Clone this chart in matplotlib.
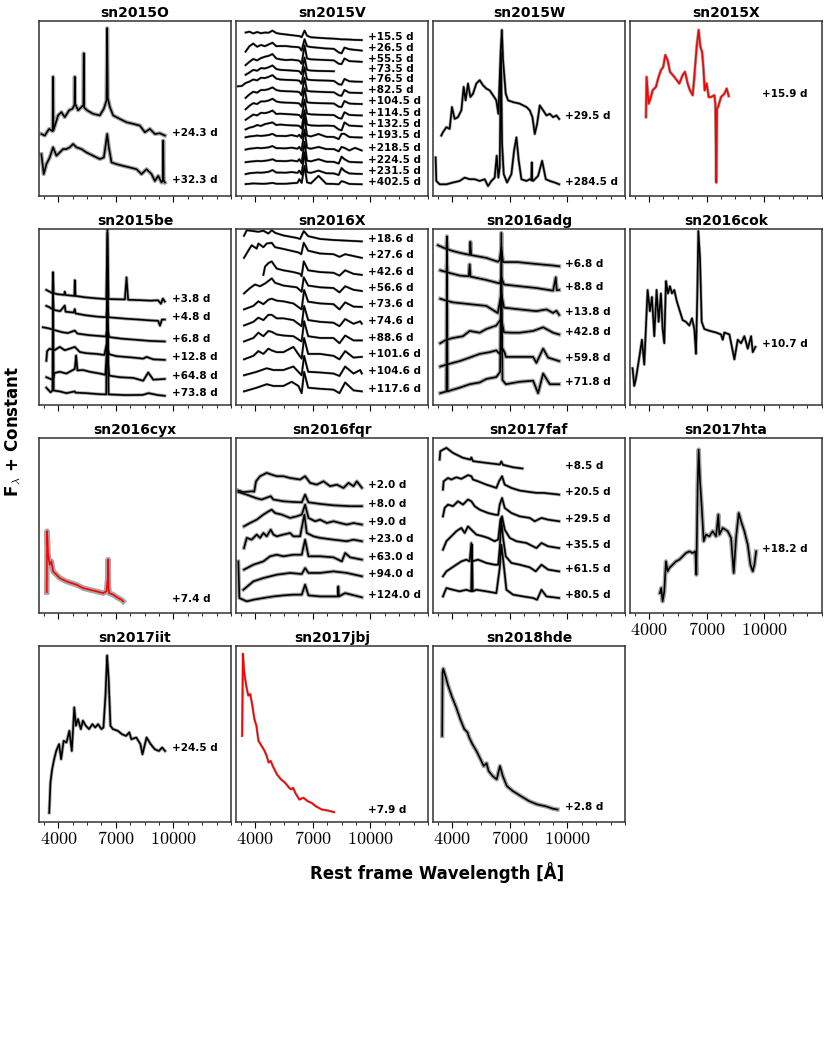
import numpy as np
import matplotlib
matplotlib.use('Agg')
import matplotlib.pyplot as plt
from matplotlib.ticker import FixedLocator, AutoMinorLocator, FuncFormatter

plt.rcParams['mathtext.fontset'] = 'cm'

nan = np.nan

# ---- sn2015O
sn2015O_phase = ['+24.3 d', '+32.3 d']
sn2015O_wave = [
    [3122, 3296, 3522, 3710, 3730, 3750, 3991, 4165, 4339, 4565, 4739, 4845, 4861, 4878, 5035, 5209, 5310, 5330,
     5350, 5504, 5817, 6165, 6374, 6513, 6548, 6580, 6687, 6861, 7209, 7556, 7904, 8252, 8513, 8774, 9034, 9295, 9556],
    [3122, 3243, 3383, 3556, 3730, 3904, 4078, 4252, 4426, 4600, 4774, 4948, 5209, 5469, 5817, 6165, 6374, 6478,
     6548, 6635, 6774, 7035, 7382, 7730, 8078, 8339, 8600, 8861, 9034, 9208, 9382, 9450, 9469, 9490, 9556],
]
sn2015O_flux = [
    [35.4, 34.5, 38.3, 37.0, 68.0, 37.5, 46.0, 47.9, 45.0, 48.9, 49.8, 52.0, 68.0, 52.7, 48.9, 50.8, 52.0, 81.4,
     50.5, 48.9, 46.9, 46.0, 49.8, 54.6, 95.8, 56.0, 50.8, 46.0, 44.0, 42.1, 41.2, 40.2, 36.4, 38.3, 35.4, 35.8, 34.5],
    [23.9, 12.5, 18.2, 22.0, 27.8, 23.0, 24.9, 26.8, 26.8, 27.8, 29.7, 27.8, 26.8, 24.9, 23.0, 21.1, 22.0, 29.7,
     35.4, 27.8, 19.2, 18.2, 17.2, 16.3, 15.3, 12.5, 15.3, 12.5, 8.6, 11.5, 7.7, 9.0, 31.6, 9.0, 7.7],
]

# ---- sn2015V (common wavelength grid)
sn2015V_grid = [3100, 3300, 3500, 3700, 3900, 4100, 4300, 4500, 4700, 4900, 5100, 5300, 5600, 5900, 6200, 6300,
                6420, 6570, 6700, 6900, 7300, 7700, 8100, 8350, 8500, 8650, 8900, 9200, 9550]
sn2015V_phase = ['+15.5 d', '+26.5 d', '+55.5 d', '+73.5 d', '+76.5 d', '+82.5 d', '+104.5 d', '+114.5 d',
                 '+132.5 d', '+193.5 d', '+218.5 d', '+224.5 d', '+231.5 d', '+402.5 d']
sn2015V_flux = [
    [nan, nan, 93.3, 93.8, 92.8, 93.6, 92.9, 93.3, 93.2, 94.4, 93.0, 92.6, 92.2, 91.8, 91.4, 91.3, 90.6, 94.4, 91.5,
     90.6, 90.3, 90.0, 89.8, 89.6, 89.4, 89.4, 89.3, 89.1, 89.0],
    [nan, nan, 82.4, 85.5, 87.0, 85.2, 86.2, 85.5, 86.5, 87.5, 85.5, 85.6, 85.6, 85.2, 85.0, 84.8, 83.0, 89.5, 85.5,
     85.0, 84.6, 84.2, 84.0, 82.0, 81.4, 84.7, 83.8, 83.4, 83.0],
    [nan, nan, 74.7, 76.6, 78.2, 77.4, 78.7, 79.5, 80.0, 81.0, 78.5, 78.0, 77.6, 77.8, 77.4, 77.2, 75.5, 86.0, 78.5,
     78.0, 77.8, 77.6, 77.4, 75.5, 75.3, 78.5, 77.0, 76.8, 76.6],
    [nan, nan, 69.2, 70.5, 72.0, 71.5, 73.0, 72.8, 73.5, 74.5, 72.5, 72.0, 71.8, 71.6, 71.4, 71.2, 69.5, 79.0, 72.0,
     71.6, 71.4, 71.3, 71.2, nan, nan, nan, nan, nan, nan],
    [62.6, 62.8, 64.5, 65.3, 66.5, 66.0, 67.5, 67.3, 68.0, 69.0, 67.0, 66.5, 66.3, 66.2, 66.0, 65.8, 64.0, 73.5, 66.5,
     66.2, 66.0, 65.9, 65.7, 63.8, 63.5, 66.8, 65.5, 65.3, 65.2],
    [nan, nan, 56.0, 58.0, 59.5, 59.0, 60.5, 60.5, 61.0, 62.0, 60.5, 60.0, 59.8, 59.7, 59.5, 59.3, 57.5, 67.5, 60.0,
     59.7, 59.5, 59.3, 59.2, 57.5, 57.2, 60.5, 59.0, 58.9, 58.8],
    [nan, nan, 49.5, 51.5, 53.0, 52.5, 54.0, 54.0, 54.5, 55.5, 54.0, 53.5, 53.3, 53.2, 53.0, 52.8, 51.0, 61.5, 53.5,
     53.2, 53.0, 52.9, 52.8, 51.0, 50.8, 54.2, 52.8, 52.6, 52.5],
    [nan, nan, 43.5, 45.0, 46.5, 46.0, 47.5, 47.3, 47.8, 48.8, 46.8, 47.0, 46.8, 46.6, 46.4, 46.2, 44.5, 55.0, 47.0,
     46.6, 46.4, 46.3, 46.2, 44.5, 44.2, 47.8, 46.3, 46.1, 46.0],
    [nan, nan, 38.0, 39.0, 39.5, 40.5, 40.0, 41.0, 41.5, 42.0, 40.5, 40.8, 40.5, 40.3, 40.2, 40.0, 38.5, 49.0, 40.8,
     40.3, 40.1, 40.2, 40.0, 38.0, 37.5, 42.0, 40.2, 40.0, 39.8],
    [nan, nan, 33.5, 34.0, 34.2, 34.5, 34.3, 34.5, 34.8, 35.5, 34.3, 34.3, 34.2, 34.8, 34.0, 35.0, 33.0, 45.0, 34.5,
     34.0, 35.4, 33.8, 33.7, 32.5, 35.5, 35.5, 33.7, 33.5, 33.4],
    [nan, nan, 26.5, 27.0, 27.2, 27.5, 27.3, 27.5, 27.8, 28.5, 27.3, 27.3, 27.2, 27.6, 27.0, 28.0, 26.0, 38.0, 27.5,
     27.0, 28.0, 26.8, 26.8, 25.5, 28.0, 27.5, 26.0, 27.5, 26.0],
    [nan, nan, 19.3, 19.6, 19.8, 20.0, 19.9, 20.1, 20.4, 21.0, 20.0, 20.0, 19.9, 20.3, 19.8, 21.0, 18.8, 31.0, 20.2,
     19.8, 21.0, 19.6, 19.5, 18.5, 22.5, 21.0, 19.5, 19.3, 19.2],
    [nan, nan, 12.5, 13.0, 13.2, 13.4, 13.3, 13.5, 13.8, 14.8, 13.4, 13.4, 13.3, 13.7, 13.2, 14.5, 12.3, 25.0, 13.6,
     13.2, 14.5, 13.0, 12.9, 12.0, 16.0, 14.3, 12.9, 12.7, 12.6],
    [nan, nan, 6.8, 7.0, 7.2, 7.1, 7.0, 7.0, 7.2, 7.5, 7.0, 7.0, 7.0, 7.3, 7.5, 9.6, 7.5, 17.2, 7.8,
     7.2, 11.5, 7.0, 6.9, 6.7, 8.5, 8.0, 6.9, 6.8, 6.7],
]
sn2015V_wave = [sn2015V_grid] * len(sn2015V_flux)

# ---- sn2015W
sn2015W_phase = ['+29.5 d', '+284.5 d']
sn2015W_wave = [
    [3435, 3520, 3700, 3870, 3990, 4130, 4300, 4480, 4600, 4700, 4826, 4948, 5087, 5260, 5435, 5608, 5782, 5956,
     6130, 6300, 6408, 6530, 6590, 6652, 6791, 6913, 7174, 7521, 7869, 8043, 8182, 8304, 8426, 8565, 8739, 8913,
     9087, 9260, 9434, 9573],
    [3140, 3174, 3350, 3700, 4043, 4390, 4652, 4913, 5174, 5435, 5695, 5870, 6043, 6217, 6321, 6408, 6478, 6545,
     6600, 6687, 6860, 7087, 7226, 7348, 7470, 7608, 7870, 8043, 8120, 8147, 8175, 8217, 8478, 8687, 8878, 9087,
     9347, 9573],
]
sn2015W_flux = [
    [34.5, 36.4, 39.3, 38.3, 50.8, 44.0, 45.0, 48.9, 62.3, 54.6, 64.2, 56.5, 58.4, 64.2, 66.1, 63.2, 61.3, 60.3,
     57.5, 54.6, 46.9, 83.3, 94.8, 77.6, 58.4, 54.6, 53.6, 52.7, 50.8, 48.9, 45.0, 35.4, 41.2, 51.7, 48.9, 46.0,
     46.9, 45.0, 46.0, 44.0],
    [22.0, 8.6, 6.7, 6.7, 7.7, 8.6, 10.5, 9.6, 9.6, 8.6, 9.6, 5.7, 8.6, 10.5, 23.0, 10.5, 16.3, 82.0,
     30.0, 12.5, 7.7, 12.5, 25.9, 33.5, 20.1, 9.6, 8.6, 9.6, 9.0, 19.2, 9.0, 8.6, 11.5, 20.1, 9.6, 8.6,
     7.7, 6.7],
]

# ---- sn2015X
sn2015X_phase = ['+15.9 d']
sn2015X_wave = [[3835, 3870, 3974, 4096, 4183, 4356, 4496, 4617, 4739, 4843, 4965, 5087, 5313, 5574, 5748, 5869,
                 6008, 6130, 6270, 6356, 6478, 6582, 6669, 6756, 6826, 6895, 7000, 7104, 7226, 7400, 7452, 7500,
                 7540, 7591, 7748, 7921, 8043, 8147]]
sn2015X_flux = [[45.0, 68.0, 52.7, 56.5, 60.3, 62.3, 68.0, 71.8, 73.8, 80.5, 77.6, 70.9, 68.0, 64.2, 69.0, 70.9,
                 64.2, 60.3, 57.5, 68.0, 85.2, 94.8, 85.2, 82.4, 73.8, 60.3, 64.2, 56.5, 56.5, 57.5, 52.7, 7.7,
                 50.0, 50.8, 56.5, 58.4, 61.3, 57.0]]

# ---- sn2015be
sn2015be_phase = ['+3.8 d', '+4.8 d', '+6.8 d', '+12.8 d', '+64.8 d', '+73.8 d']
sn2015be_wave = [
    [3380, 3550, 3700, 3730, 3760, 3950, 4300, 4339, 4380, 4840, 4861, 4900, 5400, 6000, 6500, 6563, 6620, 7470,
     7556, 7640, 8200, 8800, 9200, 9350, 9450, 9550],
    [3380, 3550, 3700, 3730, 3760, 4100, 4339, 4380, 4800, 4861, 4900, 5400, 6000, 6500, 6563, 6620, 7500, 8200,
     8800, 9200, 9300, 9400, 9550],
    [3200, 3500, 3800, 4200, 4500, 4861, 5000, 5600, 6300, 6480, 6563, 6650, 7300, 8000, 8800, 9550],
    [3380, 3420, 3550, 3800, 4078, 4339, 4600, 4861, 5122, 5469, 5990, 6400, 6530, 6650, 7035, 7904, 8426, 8600,
     8950, 9550],
    [3380, 3730, 3800, 4078, 4426, 4861, 4930, 5000, 5295, 5643, 6165, 6450, 6548, 6650, 7209, 7904, 8426, 8687,
     8950, 9550],
    [3380, 3600, 3700, 3730, 3760, 4078, 4426, 4861, 4900, 5469, 6165, 6500, 6563, 6620, 7500, 8400, 8700, 9200,
     9550],
]
sn2015be_flux = [
    [65.4, 64.4, 63.5, 75.6, 63.5, 63.0, 62.6, 64.4, 62.5, 62.0, 71.0, 62.0, 61.2, 60.6, 60.2, 100.0, 60.2, 60.0,
     72.6, 59.8, 59.6, 59.3, 59.5, 57.5, 60.5, 58.8],
    [56.3, 55.5, 54.3, 62.0, 54.0, 53.3, 56.5, 53.0, 52.5, 54.5, 52.0, 51.0, 50.2, 49.8, 60.0, 49.8, 49.0, 48.5,
     48.0, 47.8, 45.0, 48.5, 48.5],
    [44.1, 43.5, 42.5, 41.3, 40.8, 42.2, 40.5, 39.6, 39.0, 38.8, 44.5, 38.5, 37.6, 37.0, 36.3, 36.0],
    [25.0, 30.5, 31.9, 31.0, 32.9, 31.0, 31.9, 32.9, 30.0, 29.3, 28.9, 28.3, 35.0, 28.7, 27.6, 26.8, 26.2, 27.2,
     25.8, 25.5],
    [15.6, 14.0, 18.0, 18.7, 17.7, 20.3, 28.0, 19.5, 19.7, 18.7, 17.7, 17.0, 30.9, 16.5, 15.6, 15.2, 13.6, 18.3,
     14.2, 14.6],
    [9.6, 7.0, 8.0, 75.0, 8.0, 7.5, 6.5, 7.5, 6.8, 6.5, 5.9, 5.8, 98.0, 5.8, 5.4, 5.5, 6.5, 5.4, 5.0],
]

# ---- sn2016X
sn2016X_phase = ['+18.6 d', '+27.6 d', '+42.6 d', '+56.6 d', '+73.6 d', '+74.6 d', '+88.6 d', '+101.6 d',
                 '+104.6 d', '+117.6 d']
sn2016X_wave = [
    [3417, 3560, 3900, 4165, 4426, 4687, 4861, 5035, 5469, 6165, 6340, 6530, 6760, 7382, 8078, 9556],
    [3417, 3640, 3817, 4078, 4165, 4426, 4600, 4861, 5035, 5469, 6252, 6400, 6530, 6760, 7382, 8078, 8390, 8687, 9556],
    [4426, 4513, 4687, 4861, 4983, 5122, 5469, 5990, 6340, 6420, 6530, 6760, 7382, 8078, 8390, 8687, 9121, 9556],
    [3417, 3730, 3991, 4252, 4513, 4687, 4861, 5035, 5469, 6165, 6420, 6530, 6760, 7382, 8078, 8390, 8687, 9121, 9556],
    [3417, 3904, 4165, 4426, 4687, 4861, 5122, 5469, 5990, 6420, 6548, 6760, 7382, 8078, 8390, 8687, 9121, 9556],
    [3417, 3904, 4165, 4426, 4687, 4861, 5122, 5469, 5990, 6420, 6548, 6760, 7382, 8078, 8390, 8687, 9121, 9470, 9556],
    [3417, 3904, 4165, 4426, 4687, 4861, 5122, 5469, 5990, 6420, 6548, 6760, 7382, 8078, 8390, 8687, 9121, 9556],
    [3417, 3904, 4165, 4426, 4687, 4861, 5122, 5469, 5990, 6200, 6420, 6548, 6760, 7382, 8078, 8390, 8687, 9121, 9556],
    [3417, 4078, 4600, 4948, 5469, 5990, 6420, 6548, 6760, 7382, 8078, 8390, 8687, 9121, 9470, 9556],
    [3417, 4078, 4600, 4948, 5469, 5900, 6252, 6420, 6548, 6760, 7382, 8078, 8390, 8687, 9121, 9556],
]
sn2016X_flux = [
    [96.3, 99.5, 99.0, 98.6, 99.2, 97.6, 99.5, 98.0, 96.5, 95.1, 94.5, 99.0, 96.1, 94.5, 93.9, 93.1],
    [83.7, 87.8, 90.9, 89.0, 91.9, 89.8, 91.9, 92.3, 89.8, 88.8, 86.8, 85.8, 92.3, 87.8, 86.2, 85.8, 84.3, 85.8, 83.7],
    [74.0, 78.7, 80.7, 81.7, 79.7, 77.6, 76.6, 75.6, 74.6, 73.2, 81.7, 76.6, 75.6, 75.2, 73.6, 76.6, 74.6, 74.0],
    [63.4, 66.5, 68.5, 67.5, 69.1, 70.5, 72.0, 69.5, 67.9, 66.9, 64.4, 72.6, 67.9, 66.9, 66.5, 64.0, 67.5, 65.5, 64.8],
    [54.3, 56.3, 58.9, 57.3, 59.8, 60.4, 59.3, 58.9, 57.7, 54.3, 65.4, 58.7, 57.7, 57.3, 54.3, 58.3, 55.9, 55.7],
    [45.1, 47.2, 49.6, 48.2, 51.2, 51.2, 49.2, 49.2, 48.2, 44.7, 56.3, 48.2, 47.2, 46.7, 44.7, 48.8, 46.1, 47.5, 46.1],
    [36.0, 38.0, 41.0, 39.0, 42.0, 41.5, 40.0, 39.4, 39.0, 36.0, 47.6, 39.0, 38.0, 38.0, 35.0, 39.4, 36.6, 36.6],
    [25.8, 27.8, 30.5, 28.9, 31.9, 30.9, 29.9, 29.9, 32.9, 29.5, 26.2, 38.0, 28.9, 28.9, 27.8, 25.8, 30.5, 26.8, 27.2],
    [16.7, 18.7, 20.7, 19.7, 19.7, 21.7, 16.7, 27.8, 18.7, 18.3, 17.7, 16.3, 21.7, 17.7, 19.7, 17.7],
    [7.5, 9.6, 11.6, 10.6, 10.6, 13.0, 10.6, 6.5, 18.7, 9.6, 9.0, 8.5, 6.5, 12.6, 8.1, 7.5],
]

# ---- sn2016adg
sn2016adg_phase = ['+6.8 d', '+8.8 d', '+13.8 d', '+42.8 d', '+59.8 d', '+71.8 d']
sn2016adg_wave = [
    [3261, 3700, 3730, 3760, 4043, 4400, 4913, 4950, 4990, 5780, 6380, 6480, 6560, 6650, 7400, 8300, 9300, 9573],
    [3380, 3700, 3730, 3760, 4400, 4861, 4913, 4960, 5780, 6480, 6563, 6700, 7520, 8390, 9260, 9400, 9450, 9573],
    [3380, 3700, 4043, 4913, 5780, 6380, 6560, 6700, 7520, 8390, 8910, 9260, 9430, 9573],
    [3380, 3700, 4043, 4560, 4913, 5435, 5780, 6300, 6560, 6700, 7087, 7520, 8217, 8740, 9260, 9573],
    [3380, 3700, 4043, 4390, 4913, 5435, 5956, 6300, 6478, 6580, 6720, 6800, 7520, 8217, 8390, 8740, 9000, 9573],
    [3380, 3700, 3730, 3760, 4043, 4390, 4913, 5435, 5780, 6300, 6500, 6563, 6620, 6800, 7520, 8217, 8478, 8740,
     9087, 9573],
]
sn2016adg_flux = [
    [90.9, 88.8, 96.0, 88.6, 87.6, 86.6, 85.4, 92.9, 85.3, 83.7, 81.5, 82.5, 89.8, 81.3, 81.3, 80.3, 79.3, 78.9],
    [76.6, 75.6, 82.0, 75.4, 73.6, 73.2, 80.0, 73.0, 71.1, 69.1, 72.6, 68.5, 67.5, 66.5, 65.0, 72.6, 65.2, 65.4],
    [60.4, 59.3, 58.3, 57.3, 56.3, 52.2, 63.4, 55.3, 54.3, 53.3, 54.3, 52.3, 53.5, 51.2],
    [35.0, 37.0, 38.0, 39.0, 42.0, 41.0, 43.1, 45.1, 49.0, 41.2, 41.0, 41.0, 42.0, 44.1, 41.0, 40.0],
    [21.7, 22.8, 23.8, 24.8, 26.8, 28.9, 29.9, 30.9, 28.9, 32.9, 30.0, 27.2, 27.2, 27.2, 23.8, 31.9, 26.8, 24.8],
    [6.5, 7.5, 93.0, 7.5, 8.5, 9.6, 11.6, 12.6, 14.6, 15.7, 18.7, 98.0, 14.0, 11.6, 13.0, 13.6, 6.5, 17.7,
     11.6, 11.6],
]

# ---- sn2016cok
sn2016cok_phase = ['+10.7 d']
sn2016cok_wave = [[3139, 3226, 3313, 3487, 3626, 3748, 3922, 4043, 4148, 4270, 4391, 4496, 4617, 4704, 4791, 4878,
                   4983, 5087, 5191, 5313, 5435, 5574, 5748, 5922, 6096, 6235, 6356, 6443, 6513, 6565, 6652, 6739,
                   6878, 7139, 7487, 7748, 7835, 7922, 8183, 8443, 8617, 8791, 8965, 9139, 9313, 9400, 9539]]
sn2016cok_flux = [[20.7, 10.6, 14.6, 26.8, 37.0, 22.8, 65.4, 53.3, 61.4, 39.0, 65.4, 47.2, 63.4, 43.1, 35.0, 70.5,
                   63.4, 67.5, 63.4, 65.4, 59.3, 54.3, 48.2, 47.2, 45.1, 49.2, 43.1, 28.9, 63.4, 99.0, 83.7, 47.2,
                   43.1, 42.1, 41.1, 40.0, 37.0, 41.1, 40.0, 25.8, 37.0, 35.0, 39.0, 31.9, 39.0, 29.9, 32.9]]

# ---- sn2016cyx
sn2016cyx_phase = ['+7.4 d']
sn2016cyx_wave = [[3400, 3420, 3470, 3556, 3643, 3730, 3904, 4078, 4252, 4426, 4687, 4948, 5295, 5643, 5991, 6339,
                   6513, 6580, 6600, 6620, 6652, 6861, 7122, 7295, 7382]]
sn2016cyx_flux = [[12.0, 46.7, 33.3, 27.6, 29.5, 23.8, 21.9, 20.0, 19.0, 18.1, 17.1, 16.2, 14.3, 13.3, 12.4, 11.4,
                   12.4, 20.0, 30.5, 15.0, 11.4, 10.5, 8.6, 7.6, 6.7]]

# ---- sn2016fqr
sn2016fqr_phase = ['+2.0 d', '+8.0 d', '+9.0 d', '+23.0 d', '+63.0 d', '+94.0 d', '+124.0 d']
sn2016fqr_wave = [
    [3122, 3383, 3817, 3950, 4043, 4252, 4600, 4861, 5122, 5469, 5817, 6339, 6600, 6861, 7208, 7556, 7904, 8252,
     8600, 8861, 9121, 9295, 9556],
    [3122, 3557, 4078, 4339, 4808, 4948, 5469, 5990, 6426, 6600, 6774, 7382, 8078, 8947, 9556],
    [3417, 3730, 4078, 4426, 4687, 4861, 5035, 5382, 5817, 6165, 6426, 6600, 6774, 7122, 7382, 7730, 8078, 8426,
     8774, 9121, 9556],
    [3417, 3557, 3817, 4078, 4252, 4426, 4600, 4808, 4948, 5122, 5469, 5817, 5990, 6339, 6560, 6687, 7035, 7382,
     8078, 8774, 9121, 9556],
    [3417, 3904, 4426, 4774, 5122, 5469, 5990, 6426, 6600, 6774, 7382, 8078, 8513, 8687, 8947, 9556],
    [3383, 3904, 4426, 5122, 5817, 6426, 6600, 6774, 7382, 8078, 8774, 9556],
    [3122, 3174, 3557, 3904, 4426, 4948, 5469, 5990, 6426, 6600, 6774, 7382, 8078, 8300, 8330, 8360, 8687, 9556],
]
sn2016fqr_flux = [
    [70.0, 69.0, 69.5, 69.3, 75.2, 78.1, 80.0, 79.0, 78.1, 78.1, 77.1, 76.2, 78.1, 74.3, 73.3, 75.2, 72.4, 73.3,
     71.4, 74.3, 72.4, 75.2, 71.5],
    [69.1, 67.6, 65.5, 64.8, 66.7, 64.8, 63.8, 63.4, 63.2, 67.6, 63.2, 62.3, 61.5, 61.0, 61.0],
    [49.5, 51.4, 53.3, 56.2, 58.0, 59.0, 57.1, 56.2, 54.3, 55.2, 56.2, 61.9, 54.3, 52.4, 53.3, 51.4, 52.4, 51.4,
     50.5, 51.4, 50.5],
    [37.1, 42.9, 41.9, 44.8, 42.9, 45.7, 43.8, 47.6, 44.8, 43.8, 44.8, 45.7, 43.8, 43.8, 56.2, 45.7, 43.8, 42.9,
     41.9, 41.0, 41.9, 41.0],
    [24.8, 27.6, 29.5, 32.4, 33.3, 32.4, 33.3, 33.3, 41.9, 32.4, 32.4, 31.8, 29.5, 34.3, 31.8, 30.5],
    [13.3, 18.1, 20.0, 21.9, 22.9, 22.3, 25.7, 22.9, 22.9, 23.8, 22.9, 21.0],
    [29.5, 8.6, 6.7, 7.6, 8.6, 9.5, 10.1, 10.5, 10.5, 16.2, 10.1, 9.5, 9.5, 9.5, 15.2, 9.5, 11.4, 9.0],
]

# ---- sn2017faf
sn2017faf_phase = ['+8.5 d', '+20.5 d', '+29.5 d', '+35.5 d', '+61.5 d', '+80.5 d']
sn2017faf_wave = [
    [3348, 3383, 3700, 4043, 4565, 4950, 5000, 5087, 5782, 6478, 6563, 6650, 7174, 7660],
    [3522, 3557, 3783, 3957, 4217, 4478, 4826, 5000, 5087, 5348, 5782, 6043, 6304, 6443, 6600, 6739, 7087, 7521,
     8043, 8391, 8739, 9260, 9573],
    [3522, 3609, 3783, 4043, 4304, 4565, 4826, 5000, 5174, 5435, 5870, 6217, 6400, 6478, 6600, 6739, 7087, 7521,
     8043, 8304, 8652, 9000, 9573],
    [3522, 3700, 3957, 4217, 4478, 4652, 4826, 5000, 5261, 5609, 5870, 6217, 6400, 6513, 6600, 6739, 7000, 7347,
     7869, 8391, 8652, 9000, 9573],
    [3522, 3700, 3957, 4217, 4478, 4739, 4913, 5000, 5040, 5348, 5782, 6217, 6400, 6478, 6565, 6652, 6791, 7087,
     7521, 8043, 8357, 8652, 9000, 9573],
    [3522, 3700, 4043, 4391, 4739, 4990, 5035, 5070, 5261, 5782, 6304, 6478, 6565, 6687, 6826, 7174, 7695, 8217,
     8426, 8652, 8913, 9573],
]
sn2017faf_flux = [
    [87.6, 92.4, 94.3, 91.4, 88.6, 87.6, 88.8, 86.7, 85.7, 84.8, 86.5, 84.6, 83.2, 82.5],
    [70.5, 75.2, 77.1, 76.2, 77.5, 76.6, 78.7, 78.1, 76.2, 75.2, 73.3, 72.4, 71.4, 75.2, 78.1, 73.3, 71.4, 69.9,
     69.1, 68.6, 68.6, 68.0, 67.6],
    [55.2, 60.0, 61.9, 61.0, 63.8, 61.9, 64.8, 63.8, 61.0, 59.0, 57.1, 56.2, 56.0, 61.9, 65.7, 60.0, 57.1, 55.2,
     54.3, 52.4, 54.3, 53.3, 52.4],
    [36.2, 41.0, 43.8, 46.7, 48.6, 45.7, 49.5, 47.6, 44.8, 43.8, 42.9, 41.0, 42.0, 53.3, 55.2, 47.6, 42.9, 41.0,
     40.0, 37.1, 40.0, 38.1, 37.1],
    [21.0, 23.8, 25.7, 27.6, 29.5, 30.5, 29.5, 40.0, 29.5, 30.5, 28.6, 27.6, 27.6, 37.1, 53.3, 42.9, 32.4, 28.6,
     27.6, 26.1, 23.8, 27.6, 24.8, 23.8],
    [9.5, 14.3, 13.3, 12.4, 13.3, 12.4, 39.0, 12.4, 13.3, 12.4, 11.4, 25.7, 39.0, 27.6, 13.3, 10.5, 9.5, 8.6,
     7.6, 13.3, 9.5, 8.6],
]

# ---- sn2017hta
sn2017hta_phase = ['+18.2 d']
sn2017hta_wave = [[4565, 4635, 4704, 4791, 4878, 4965, 5052, 5226, 5400, 5574, 5748, 5922, 6096, 6270, 6408, 6461,
                   6530, 6582, 6652, 6756, 6843, 6965, 7139, 7313, 7487, 7608, 7660, 7835, 8096, 8269, 8409, 8530,
                   8669, 8791, 8965, 9139, 9278, 9400, 9487, 9574]]
sn2017hta_flux = [[11.4, 14.3, 6.7, 12.4, 29.5, 23.8, 25.7, 27.6, 29.5, 30.5, 32.4, 34.3, 35.2, 34.3, 35.2, 21.9,
                   73.3, 93.3, 75.2, 58.1, 41.0, 44.8, 43.8, 46.7, 43.8, 56.2, 44.8, 48.6, 46.7, 42.9, 22.9, 42.9,
                   57.1, 52.4, 46.7, 39.0, 27.6, 23.8, 27.6, 35.2]]

# ---- sn2017iit
sn2017iit_phase = ['+24.5 d']
sn2017iit_wave = [[3529, 3593, 3679, 3786, 3893, 4043, 4150, 4278, 4428, 4578, 4706, 4835, 4920, 5027, 5177, 5284,
                   5434, 5605, 5776, 5926, 6076, 6247, 6354, 6460, 6545, 6625, 6718, 6846, 7103, 7317, 7531, 7702,
                   7809, 8066, 8280, 8387, 8601, 8815, 9029, 9243, 9414, 9564]]
sn2017iit_flux = [[5.0, 22.2, 29.8, 35.6, 40.3, 44.2, 35.6, 46.1, 45.1, 51.8, 40.3, 65.2, 54.7, 58.5, 52.8, 57.6,
                   54.7, 52.8, 55.6, 53.7, 55.6, 52.8, 53.7, 71.9, 94.8, 81.5, 54.7, 52.8, 51.8, 49.9, 48.9, 50.9,
                   47.0, 48.0, 44.2, 38.4, 48.0, 44.2, 41.3, 40.3, 42.3, 40.3]]

# ---- sn2017jbj
sn2017jbj_phase = ['+7.9 d']
sn2017jbj_wave = [[3318, 3361, 3425, 3531, 3638, 3744, 3851, 3957, 4064, 4170, 4277, 4383, 4490, 4596, 4703, 4809,
                   4916, 5129, 5342, 5555, 5768, 5874, 5981, 6087, 6300, 6513, 6726, 6939, 7152, 7472, 7792, 8111]]
sn2017jbj_flux = [[48.9, 95.8, 85.3, 77.6, 71.9, 72.8, 66.2, 58.5, 54.7, 46.1, 44.2, 42.3, 40.3, 37.5, 33.7, 34.6,
                   31.7, 27.0, 24.1, 22.2, 19.3, 18.4, 19.3, 16.4, 12.6, 13.6, 11.7, 10.7, 8.8, 6.9, 6.3, 5.4]]

# ---- sn2018hde
sn2018hde_phase = ['+2.8 d']
sn2018hde_wave = [[3480, 3500, 3536, 3620, 3789, 4000, 4211, 4422, 4633, 4802, 4886, 5055, 5266, 5477, 5646, 5794,
                   5899, 6110, 6321, 6490, 6638, 6849, 7165, 7587, 8009, 8431, 8853, 9275, 9486]]
sn2018hde_flux = [[48.9, 85.0, 87.2, 84.3, 77.6, 70.9, 65.2, 58.5, 52.8, 50.9, 48.0, 44.2, 40.3, 35.6, 31.7, 33.3,
                   28.9, 26.0, 24.1, 31.7, 26.0, 20.3, 17.4, 14.5, 11.7, 9.8, 8.8, 7.3, 6.9]]

panels = [
    ('sn2015O', sn2015O_wave, sn2015O_flux, sn2015O_phase, 'k', 3.0),
    ('sn2015V', sn2015V_wave, sn2015V_flux, sn2015V_phase, 'k', 1.8),
    ('sn2015W', sn2015W_wave, sn2015W_flux, sn2015W_phase, 'k', 2.2),
    ('sn2015X', sn2015X_wave, sn2015X_flux, sn2015X_phase, 'red', 2.2),
    ('sn2015be', sn2015be_wave, sn2015be_flux, sn2015be_phase, 'k', 2.4),
    ('sn2016X', sn2016X_wave, sn2016X_flux, sn2016X_phase, 'k', 1.8),
    ('sn2016adg', sn2016adg_wave, sn2016adg_flux, sn2016adg_phase, 'k', 3.0),
    ('sn2016cok', sn2016cok_wave, sn2016cok_flux, sn2016cok_phase, 'k', 2.2),
    ('sn2016cyx', sn2016cyx_wave, sn2016cyx_flux, sn2016cyx_phase, 'red', 4.0),
    ('sn2016fqr', sn2016fqr_wave, sn2016fqr_flux, sn2016fqr_phase, 'k', 2.8),
    ('sn2017faf', sn2017faf_wave, sn2017faf_flux, sn2017faf_phase, 'k', 2.4),
    ('sn2017hta', sn2017hta_wave, sn2017hta_flux, sn2017hta_phase, 'k', 3.2),
    ('sn2017iit', sn2017iit_wave, sn2017iit_flux, sn2017iit_phase, 'k', 2.4),
    ('sn2017jbj', sn2017jbj_wave, sn2017jbj_flux, sn2017jbj_phase, 'red', 1.8),
    ('sn2018hde', sn2018hde_wave, sn2018hde_flux, sn2018hde_phase, 'k', 3.2),
]

fig, axes = plt.subplots(4, 4, figsize=(8.31, 10.4))
fig.subplots_adjust(left=0.047, right=0.989, top=0.980, bottom=0.210, wspace=0.026, hspace=0.19)

# panels whose x tick labels are shown (bottom of each column)
labelled = {'sn2017hta', 'sn2017iit', 'sn2017jbj', 'sn2018hde'}

for ax, (name, waves, fluxes, phases, col, noise) in zip(axes.flat, panels):
    for w, f, p in zip(waves, fluxes, phases):
        f = np.asarray(f, dtype=float)
        ax.plot(w, f, color='0.65', lw=noise, zorder=1)
        ax.plot(w, f, color=col, lw=1.2, zorder=2)
        last = f[~np.isnan(f)][-1]
        ax.text(9900, last + 1.5, p, fontsize=7.5, fontweight='bold', va='center')
    ax.set_title(name, fontsize=10, fontweight='bold', pad=3)
    ax.set_xlim(3000, 13000)
    ax.set_ylim(0, 100)
    ax.xaxis.set_major_locator(FixedLocator([4000, 7000, 10000]))
    ax.xaxis.set_minor_locator(AutoMinorLocator(4))
    ax.xaxis.set_major_formatter(FuncFormatter(lambda v, pos: r'$%d$' % v))
    ax.tick_params(axis='x', which='major', direction='out', length=4, width=0.8,
                   labelsize=13, labelbottom=name in labelled, pad=2)
    ax.tick_params(axis='x', which='minor', direction='out', length=2, width=0.6)
    ax.tick_params(axis='y', left=False, labelleft=False)
    for s in ax.spines.values():
        s.set_linewidth(1.1)
        s.set_color('0.2')

axes[3, 3].remove()

fig.text(0.016, 0.585, r'F$_\lambda$ + Constant', rotation=90, ha='center', va='center',
         fontsize=12, fontweight='bold')
fig.text(0.526, 0.161, 'Rest frame Wavelength [Å]', ha='center', va='center',
         fontsize=12, fontweight='bold')

fig.savefig('out.png', dpi=100)
